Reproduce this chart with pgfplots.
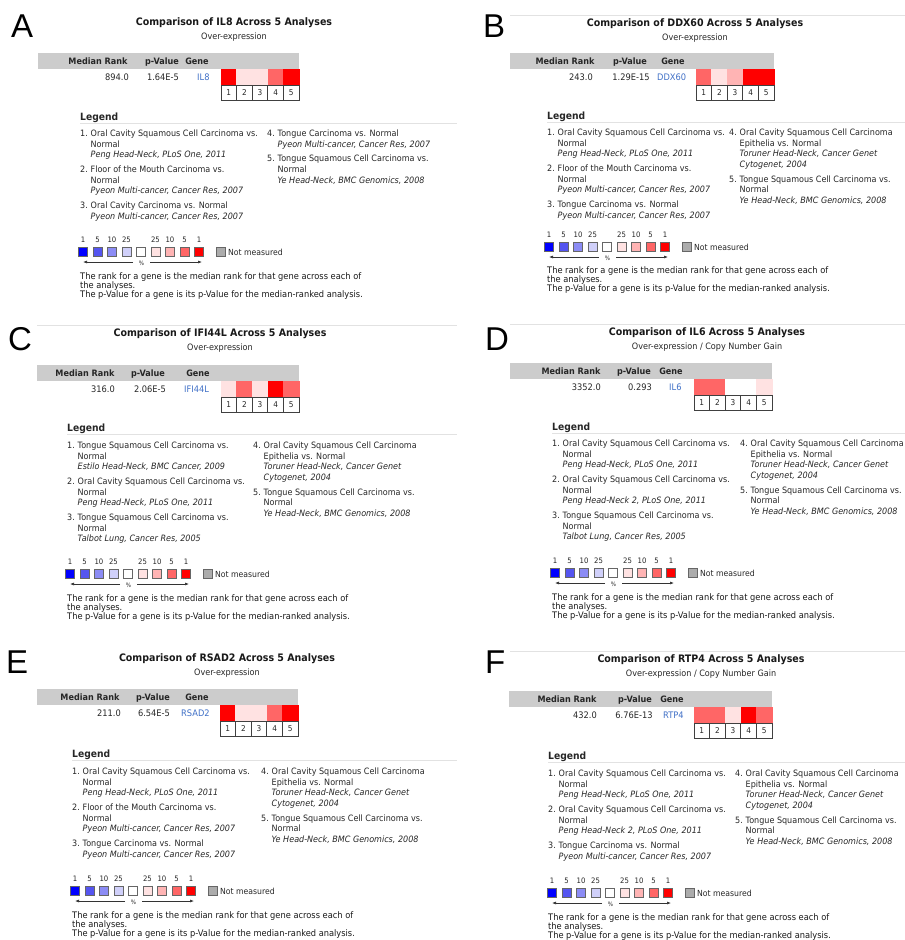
\documentclass[border=0pt]{standalone}
\usepackage{fontspec}
\setmainfont{DejaVu Sans}[FakeStretch=0.92]
\newfontfamily\letterfont{Liberation Sans}
\usepackage{pgfplots}
\pgfplotsset{compat=1.18}
\usepackage{pgfplotstable}
\usetikzlibrary{arrows.meta}

\definecolor{txt}{HTML}{262626}
\definecolor{hdr}{HTML}{CCCCCC}
\definecolor{genec}{HTML}{3F6FC6}
\definecolor{faint}{HTML}{E2E2E2}
\definecolor{c0}{RGB}{0,0,255}
\definecolor{c1}{RGB}{85,85,240}
\definecolor{c2}{RGB}{140,140,245}
\definecolor{c3}{RGB}{208,208,250}
\definecolor{c4}{RGB}{255,255,255}
\definecolor{c5}{RGB}{255,226,226}
\definecolor{c6}{RGB}{255,180,180}
\definecolor{c7}{RGB}{255,102,102}
\definecolor{c8}{RGB}{255,0,0}
\definecolor{c9}{RGB}{172,172,172}

\newcommand{\tfont}{\fontsize{10.3}{12}\selectfont\bfseries}
\newcommand{\subfont}{\fontsize{8.8}{10}\selectfont}
\newcommand{\sfont}{\fontsize{9}{9}\selectfont}
\newcommand{\bfont}{\fontsize{8}{9}\selectfont}
\newcommand{\nfont}{\fontsize{7.5}{8}\selectfont}
\newcommand{\nmfont}{\fontsize{8.4}{9}\selectfont}
\newcommand{\hfont}{\fontsize{8.8}{10}\selectfont\bfseries}
\newcommand{\lhfont}{\fontsize{10}{12}\selectfont\bfseries}
\newcommand{\vfont}{\fontsize{9}{10}\selectfont}
\newcommand{\lfont}{\fontsize{8.75}{10.7}\selectfont}

% level: 4 white, 5 = top 25%, 6 = top 10%, 7 = top 5%, 8 = top 1%
\pgfplotstableread{
i lvl
1 8
2 5
3 5
4 7
5 8
}\cellsA
\pgfplotstableread{
i lvl
1 7
2 5
3 6
4 8
5 8
}\cellsB
\pgfplotstableread{
i lvl
1 5
2 7
3 5
4 8
5 7
}\cellsC
\pgfplotstableread{
i lvl
1 7
2 7
3 4
4 4
5 5
}\cellsD
\pgfplotstableread{
i lvl
1 8
2 5
3 5
4 7
5 8
}\cellsE
\pgfplotstableread{
i lvl
1 7
2 7
3 5
4 8
5 7
}\cellsF
\pgfplotstableread{
k c
0 0
1 1
2 2
3 3
4 4
5 5
6 6
7 7
8 8
9.5 9
}\scaletab

\pgfplotsset{
 cellclasses/.style={scatter/classes={
   0={draw=c0,fill=c0},1={draw=c1,fill=c1},2={draw=c2,fill=c2},3={draw=c3,fill=c3},4={draw=c4,fill=c4},
   5={draw=c5,fill=c5},6={draw=c6,fill=c6},7={draw=c7,fill=c7},8={draw=c8,fill=c8},9={draw=c9,fill=c9}}},
 scaleclasses/.style={scatter/classes={
   0={draw=black!60,fill=c0},1={draw=black!60,fill=c1},2={draw=black!60,fill=c2},3={draw=black!60,fill=c3},4={draw=black!60,fill=c4},
   5={draw=black!60,fill=c5},6={draw=black!60,fill=c6},7={draw=black!60,fill=c7},8={draw=black!60,fill=c8},9={draw=black!60,fill=c9}}},
}

\newcommand{\CellMarks}[3]{\addplot[scatter, only marks, mark=square*, mark size=7.8pt, point meta=explicit symbolic, cellclasses] table[x expr={#1+15.6*\thisrow{i}-7.8}, y expr={-(#2+8)}, meta=lvl] {#3};}
\newcommand{\ScaleMarks}[2]{\addplot[scatter, only marks, mark=square*, mark size=4.6pt, point meta=explicit symbolic, mark options={line width=0.8pt}, scaleclasses] table[x expr={#1+14.5*\thisrow{k}}, y expr={-(#2)}, meta=c] {\scaletab};}

% ---- TikZ helpers (scope with x=1pt, y=-1pt) ----
\newcommand{\Title}[4]{%
 \node[anchor=base, inner sep=0, font=\tfont, text=black!90] at (#1,#2+3.8) {#3};
 \node[anchor=base, inner sep=0, font=\subfont, text=txt] at (#1,#2+17) {#4};}
\newcommand{\Header}[6]{% barX cellsX cellsTop MR PV GN
 \fill[hdr] (#1,#3-16) rectangle (#2+78,#3);
 \node[anchor=base, inner sep=0, font=\hfont, text=txt] at (#4,#3-4.8) {Median Rank};
 \node[anchor=base, inner sep=0, font=\hfont, text=txt] at (#5,#3-4.8) {p-Value};
 \node[anchor=base, inner sep=0, font=\hfont, text=txt] at (#6,#3-4.8) {Gene};}
\newcommand{\Values}[7]{% cellsTop valRight val pvC pv geneLeft gene
 \node[anchor=base east, inner sep=0, font=\vfont, text=txt] at (#2,#1+11.3) {#3};
 \node[anchor=base, inner sep=0, font=\vfont, text=txt] at (#4,#1+11.3) {#5};
 \node[anchor=base west, inner sep=0, font=\vfont, text=genec] at (#6,#1+11.3) {#7};}
\newcommand{\Boxes}[2]{%
 \foreach \i in {1,...,5}{%
  \draw[draw=black!75, line width=0.7pt] (#1+15.6*\i-15.6,#2+16) rectangle (#1+15.6*\i,#2+31);
  \node[anchor=base, inner sep=0, font=\bfont, text=txt] at (#1+15.6*\i-7.8,#2+26.8) {\i};}}
\newcommand{\LegendHead}[3]{%
 \node[anchor=base west, inner sep=0, font=\lhfont, text=txt] at (#1,#2+4) {Legend};
 \draw[faint, line width=0.8pt] (#1,#2+7.5) -- (#3,#2+7.5);}
\newcommand{\LN}[2]{\hbox{\makebox[10.5pt][l]{#1}#2}}
\newcommand{\LC}[1]{\hbox{\hspace{10.5pt}#1}}
\newcommand{\LI}[1]{\hbox{\hspace{10.5pt}\itshape #1}}
\newcommand{\LG}{\vskip4pt}
\newcommand{\Lcol}[3]{\node[anchor=base west, inner sep=0, font=\lfont, text=txt] at (#1,#2+3.3) {\vtop{\baselineskip=10.7pt #3}};}
\newcommand{\ScaleTxt}[2]{%
 \foreach \k/\t in {0/1,1/5,2/10,3/25,5/25,6/10,7/5,8/1}{%
  \node[anchor=base, inner sep=0, font=\nfont, text=txt] at (#1+14.5*\k,#2-9.3) {\t};}
 \draw[-{Latex[length=4pt,width=3pt]}, line width=0.6pt, black!80] (#1+50,#2+10) -- (#1,#2+10);
 \draw[-{Latex[length=4pt,width=3pt]}, line width=0.6pt, black!80] (#1+67,#2+10) -- (#1+119,#2+10);
 \node[inner sep=0, font=\fontsize{6}{6}\selectfont, text=txt] at (#1+58.5,#2+11.5) {\%};
 \node[anchor=base west, inner sep=0, font=\nmfont, text=txt] at (#1+145,#2+3) {Not measured};}
\newcommand{\Expl}[2]{\node[anchor=base west, inner sep=0, font=\sfont, text=black!90] at (#1,#2+3.2) {\vtop{\baselineskip=9pt
 \hbox{The rank for a gene is the median rank for that gene across each of}
 \hbox{the analyses.}
 \hbox{The p-Value for a gene is its p-Value for the median-ranked analysis.}}};}
\newcommand{\Letter}[3]{\node[anchor=base west, inner sep=0, font=\letterfont\fontsize{33}{33}\selectfont] at (#1,#2) {#3};}

\newcommand{\ColToruner}{%
 \LN{4.}{Oral Cavity Squamous Cell Carcinoma}\LC{Epithelia vs. Normal}\LI{Toruner Head-Neck, Cancer Genet}\LI{Cytogenet, 2004}\LG
 \LN{5.}{Tongue Squamous Cell Carcinoma vs.}\LC{Normal}\LI{Ye Head-Neck, BMC Genomics, 2008}}

\begin{document}
\begin{tikzpicture}
\begin{axis}[at={(0pt,0pt)}, anchor=north west, scale only axis, width=905pt, height=940pt,
  xmin=0, xmax=905, ymin=-940, ymax=0, hide axis, clip=false]
 \CellMarks{221}{69}{\cellsA}
 \CellMarks{696}{69}{\cellsB}
 \CellMarks{221}{381}{\cellsC}
 \CellMarks{694}{379}{\cellsD}
 \CellMarks{220}{705}{\cellsE}
 \CellMarks{694}{707}{\cellsF}
 \ScaleMarks{83}{252}
 \ScaleMarks{549}{247}
 \ScaleMarks{70}{574}
 \ScaleMarks{555}{573}
 \ScaleMarks{75}{891}
 \ScaleMarks{552}{893}
\end{axis}
\begin{scope}[x=1pt,y=-1pt]
\useasboundingbox (0,0) rectangle (905,940);
% faint separator lines
\draw[faint, line width=0.8pt] (510,15) -- (905,15);
\draw[faint, line width=0.8pt] (37,325) -- (457,325);
\draw[faint, line width=0.8pt] (510,324) -- (905,324);
\draw[faint, line width=0.8pt] (510,651) -- (905,651);

% ===== A =====
\Letter{11}{37}{A}
\Title{234}{22}{Comparison of IL8 Across 5 Analyses}{Over-expression}
\Header{38}{221}{69}{98}{162}{197}
\Values{69}{129}{894.0}{163}{1.64E-5}{197}{IL8}
\Boxes{221}{69}
\LegendHead{80}{116}{457}
\Lcol{80}{133}{%
 \LN{1.}{Oral Cavity Squamous Cell Carcinoma vs.}\LC{Normal}\LI{Peng Head-Neck, PLoS One, 2011}\LG
 \LN{2.}{Floor of the Mouth Carcinoma vs.}\LC{Normal}\LI{Pyeon Multi-cancer, Cancer Res, 2007}\LG
 \LN{3.}{Oral Cavity Carcinoma vs. Normal}\LI{Pyeon Multi-cancer, Cancer Res, 2007}}
\Lcol{267}{133}{%
 \LN{4.}{Tongue Carcinoma vs. Normal}\LI{Pyeon Multi-cancer, Cancer Res, 2007}\LG
 \LN{5.}{Tongue Squamous Cell Carcinoma vs.}\LC{Normal}\LI{Ye Head-Neck, BMC Genomics, 2008}}
\ScaleTxt{83}{252}
\Expl{80}{276}

% ===== B =====
\Letter{483}{37}{B}
\Title{695}{23}{Comparison of DDX60 Across 5 Analyses}{Over-expression}
\Header{510}{696}{69}{565}{630}{673}
\Values{69}{593}{243.0}{631}{1.29E-15}{657}{DDX60}
\Boxes{696}{69}
\LegendHead{547}{115}{905}
\Lcol{547}{132}{%
 \LN{1.}{Oral Cavity Squamous Cell Carcinoma vs.}\LC{Normal}\LI{Peng Head-Neck, PLoS One, 2011}\LG
 \LN{2.}{Floor of the Mouth Carcinoma vs.}\LC{Normal}\LI{Pyeon Multi-cancer, Cancer Res, 2007}\LG
 \LN{3.}{Tongue Carcinoma vs. Normal}\LI{Pyeon Multi-cancer, Cancer Res, 2007}}
\Lcol{729}{132}{\ColToruner}
\ScaleTxt{549}{247}
\Expl{547}{270}

% ===== C =====
\Letter{8}{350}{C}
\Title{220}{333}{Comparison of IFI44L Across 5 Analyses}{Over-expression}
\Header{37}{221}{381}{85}{148}{198}
\Values{381}{115}{316.0}{150}{2.06E-5}{184}{IFI44L}
\Boxes{221}{381}
\LegendHead{67}{427}{457}
\Lcol{67}{445}{%
 \LN{1.}{Tongue Squamous Cell Carcinoma vs.}\LC{Normal}\LI{Estilo Head-Neck, BMC Cancer, 2009}\LG
 \LN{2.}{Oral Cavity Squamous Cell Carcinoma vs.}\LC{Normal}\LI{Peng Head-Neck, PLoS One, 2011}\LG
 \LN{3.}{Tongue Squamous Cell Carcinoma vs.}\LC{Normal}\LI{Talbot Lung, Cancer Res, 2005}}
\Lcol{253}{445}{\ColToruner}
\ScaleTxt{70}{574}
\Expl{67}{598}

% ===== D =====
\Letter{485}{350}{D}
\Title{707}{332}{Comparison of IL6 Across 5 Analyses}{Over-expression / Copy Number Gain}
\Header{510}{694}{379}{571}{634}{671}
\Values{379}{601}{3352.0}{640}{0.293}{669}{IL6}
\Boxes{694}{379}
\LegendHead{552}{426}{905}
\Lcol{552}{443}{%
 \LN{1.}{Oral Cavity Squamous Cell Carcinoma vs.}\LC{Normal}\LI{Peng Head-Neck, PLoS One, 2011}\LG
 \LN{2.}{Oral Cavity Squamous Cell Carcinoma vs.}\LC{Normal}\LI{Peng Head-Neck 2, PLoS One, 2011}\LG
 \LN{3.}{Tongue Squamous Cell Carcinoma vs.}\LC{Normal}\LI{Talbot Lung, Cancer Res, 2005}}
\Lcol{740}{443}{\ColToruner}
\ScaleTxt{555}{573}
\Expl{552}{597}

% ===== E =====
\Letter{6}{673}{E}
\Title{227}{658}{Comparison of RSAD2 Across 5 Analyses}{Over-expression}
\Header{37}{220}{705}{90}{153}{197}
\Values{705}{121}{211.0}{154}{6.54E-5}{181}{RSAD2}
\Boxes{220}{705}
\LegendHead{72}{753}{457}
\Lcol{72}{771}{%
 \LN{1.}{Oral Cavity Squamous Cell Carcinoma vs.}\LC{Normal}\LI{Peng Head-Neck, PLoS One, 2011}\LG
 \LN{2.}{Floor of the Mouth Carcinoma vs.}\LC{Normal}\LI{Pyeon Multi-cancer, Cancer Res, 2007}\LG
 \LN{3.}{Tongue Carcinoma vs. Normal}\LI{Pyeon Multi-cancer, Cancer Res, 2007}}
\Lcol{261}{771}{\ColToruner}
\ScaleTxt{75}{891}
\Expl{72}{915}

% ===== F =====
\Letter{485}{673}{F}
\Title{701}{659}{Comparison of RTP4 Across 5 Analyses}{Over-expression / Copy Number Gain}
\Header{509}{694}{707}{567}{635}{672}
\Values{707}{597}{432.0}{634}{6.76E-13}{663}{RTP4}
\Boxes{694}{707}
\LegendHead{548}{755}{905}
\Lcol{548}{773}{%
 \LN{1.}{Oral Cavity Squamous Cell Carcinoma vs.}\LC{Normal}\LI{Peng Head-Neck, PLoS One, 2011}\LG
 \LN{2.}{Oral Cavity Squamous Cell Carcinoma vs.}\LC{Normal}\LI{Peng Head-Neck 2, PLoS One, 2011}\LG
 \LN{3.}{Tongue Carcinoma vs. Normal}\LI{Pyeon Multi-cancer, Cancer Res, 2007}}
\Lcol{735}{773}{\ColToruner}
\ScaleTxt{552}{893}
\Expl{548}{917}
\end{scope}
\end{tikzpicture}
\end{document}
